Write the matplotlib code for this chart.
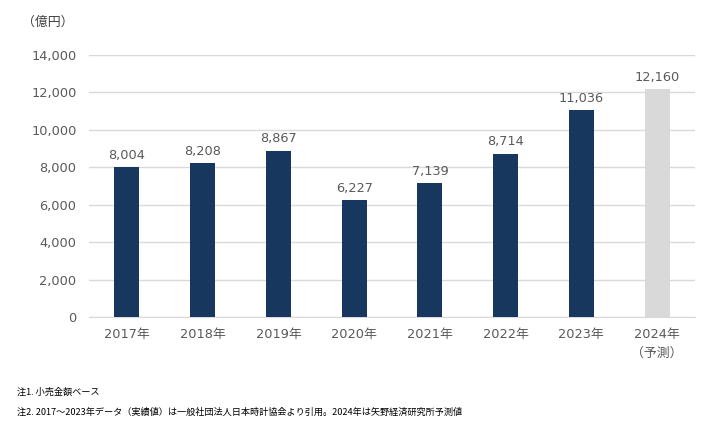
import matplotlib.pyplot as plt
import numpy as np

plt.rcParams['font.family'] = ['DejaVu Sans', 'Noto Sans CJK JP']

# data
years = ['2017年', '2018年', '2019年', '2020年', '2021年', '2022年', '2023年', '2024年\n（予測）']
values = [8004, 8208, 8867, 6227, 7139, 8714, 11036, 12160]
colors = ['#17375e'] * 7 + ['#d9d9d9']

fig = plt.figure(figsize=(7.25, 4.37), dpi=100)
ax = fig.add_axes([0.1228, 0.2746, 0.8358, 0.5995])

x = np.arange(len(years))
ax.bar(x, values, width=0.33, color=colors, zorder=3)

# value labels
for xi, v in zip(x, values):
    ax.text(xi, v + 300, f'{v:,}', ha='center', va='bottom', fontsize=9.3, color='#595959')

ax.set_xlim(-0.5, len(years) - 0.5)
ax.set_ylim(0, 14000)
ax.set_yticks(range(0, 14001, 2000))
ax.set_yticklabels([f'{t:,}' for t in range(0, 14001, 2000)])
ax.yaxis.grid(True, color='#d9d9d9', linewidth=1, zorder=0)
ax.set_xticks(x)
ax.set_xticklabels(years, linespacing=1.6)

for s in ['top', 'right', 'left']:
    ax.spines[s].set_visible(False)
ax.spines['bottom'].set_color('#d9d9d9')
ax.tick_params(axis='both', length=0, labelsize=9.3, colors='#595959')
ax.tick_params(axis='y', pad=9)
ax.tick_params(axis='x', pad=8)

fig.text(0.03, 0.95, '（億円）', fontsize=9.3, color='#404040', ha='left', va='center')
note_font = ['Noto Sans CJK JP', 'DejaVu Sans']
fig.text(0.023, 0.103, '注1. 小売金額ベース', fontsize=6.6, color='black', ha='left', va='center',
         family=note_font)
fig.text(0.023, 0.057, '注2. 2017～2023年データ（実績値）は一般社団法人日本時計協会より引用。2024年は矢野経済研究所予測値',
         fontsize=6.6, color='black', ha='left', va='center', family=note_font)

fig.savefig('out.png', dpi=100)
